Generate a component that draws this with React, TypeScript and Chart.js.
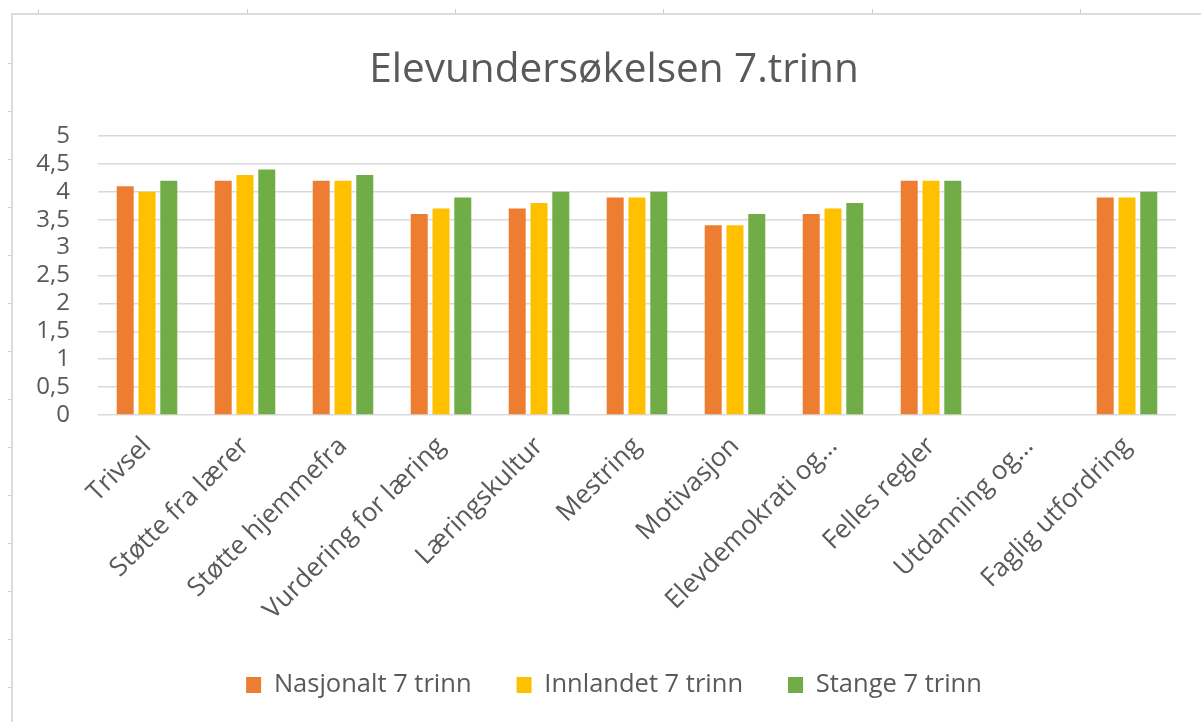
import React, { useEffect, useRef } from "react";
import { Chart, registerables } from "chart.js";

Chart.register(...registerables);

const chartTitle = "Elevundersøkelsen 7.trinn";
const categories = [
  "Trivsel",
  "Støtte fra lærer",
  "Støtte hjemmefra",
  "Vurdering for læring",
  "Læringskultur",
  "Mestring",
  "Motivasjon",
  "Elevdemokrati og…",
  "Felles regler",
  "Utdanning og…",
  "Faglig utfordring",
];
const seriesNames = ["Nasjonalt 7 trinn", "Innlandet 7 trinn", "Stange 7 trinn"];
const nasjonalt = [4.1, 4.2, 4.2, 3.6, 3.7, 3.9, 3.4, 3.6, 4.2, null, 3.9];
const innlandet = [4.0, 4.3, 4.2, 3.7, 3.8, 3.9, 3.4, 3.7, 4.2, null, 3.9];
const stange = [4.2, 4.4, 4.3, 3.9, 4.0, 4.0, 3.6, 3.8, 4.2, null, 4.0];
const seriesColors = ["#ED7D31", "#FFC000", "#70AD47"];
const yTickLabels = ["0", "0,5", "1", "1,5", "2", "2,5", "3", "3,5", "4", "4,5", "5"];

const FONT = "'Open Sans', 'DejaVu Sans', sans-serif";
const TEXT = "#595959";

const topTicks = [38, 247, 455, 663, 872, 1080];
const leftTicks = [63, 111, 159, 207, 255, 303, 351, 399, 447, 495, 543, 591, 639, 687];

export default function App() {
  const ref = useRef<HTMLCanvasElement>(null);

  useEffect(() => {
    const chart = new Chart(ref.current as HTMLCanvasElement, {
      type: "bar",
      data: {
        labels: categories,
        datasets: [
          { label: seriesNames[0], data: nasjonalt, backgroundColor: seriesColors[0] },
          { label: seriesNames[1], data: innlandet, backgroundColor: seriesColors[1] },
          { label: seriesNames[2], data: stange, backgroundColor: seriesColors[2] },
        ],
      },
      options: {
        animation: false,
        responsive: false,
        maintainAspectRatio: false,
        layout: { padding: { left: 52, right: 25, top: 0, bottom: 14.25 } },
        datasets: { bar: { categoryPercentage: 0.667, barPercentage: 0.78 } },
        plugins: {
          title: {
            display: true,
            text: chartTitle,
            color: TEXT,
            font: { family: FONT, size: 40.5, weight: "normal" },
            padding: { top: 45.7, bottom: 41.7 },
          },
          legend: {
            position: "bottom",
            labels: {
              boxWidth: 15,
              boxHeight: 16,
              padding: 45,
              color: TEXT,
              font: { family: FONT, size: 25.5 },
            },
          },
          tooltip: { enabled: false },
        },
        scales: {
          x: {
            grid: { display: false },
            border: { display: false },
            ticks: {
              color: TEXT,
              font: { family: FONT, size: 26 },
              maxRotation: 45,
              minRotation: 45,
              autoSkip: false,
              padding: 8,
            },
            afterFit: (s: any) => {
              s.height = 212.25;
            },
          },
          y: {
            min: 0,
            max: 5,
            ticks: {
              stepSize: 0.5,
              autoSkip: false,
              color: TEXT,
              font: { family: FONT, size: 24 },
              padding: 28,
              callback: (v: any) => yTickLabels[Math.round(Number(v) * 2)],
            },
            grid: { color: "#d9d9d9", drawTicks: false, lineWidth: 1.5 },
            border: { display: false },
            afterFit: (s: any) => {
              s.width = 46;
              s._computeLabelArea = () => undefined;
            },
          },
        },
      },
    });
    return () => chart.destroy();
  }, []);

  return (
    <div style={{ position: "absolute", left: 0, top: 0, width: 1201, height: 722, background: "#fff", overflow: "hidden" }}>
      <div style={{ position: "absolute", left: 11, top: 13, width: 1190, height: 2, background: "#dcdcdc" }} />
      <div style={{ position: "absolute", left: 11, top: 13, width: 2, height: 709, background: "#dcdcdc" }} />
      {topTicks.map((x) => (
        <div key={"t" + x} style={{ position: "absolute", left: x, top: 9, width: 1, height: 5, background: "#cfcfcf" }} />
      ))}
      {leftTicks.map((y) => (
        <div key={"l" + y} style={{ position: "absolute", left: 8, top: y, width: 4, height: 1, background: "#cfcfcf" }} />
      ))}
      <canvas ref={ref} width={1201} height={722} style={{ position: "absolute", left: 0, top: 0, width: 1201, height: 722 }} />
    </div>
  );
}
